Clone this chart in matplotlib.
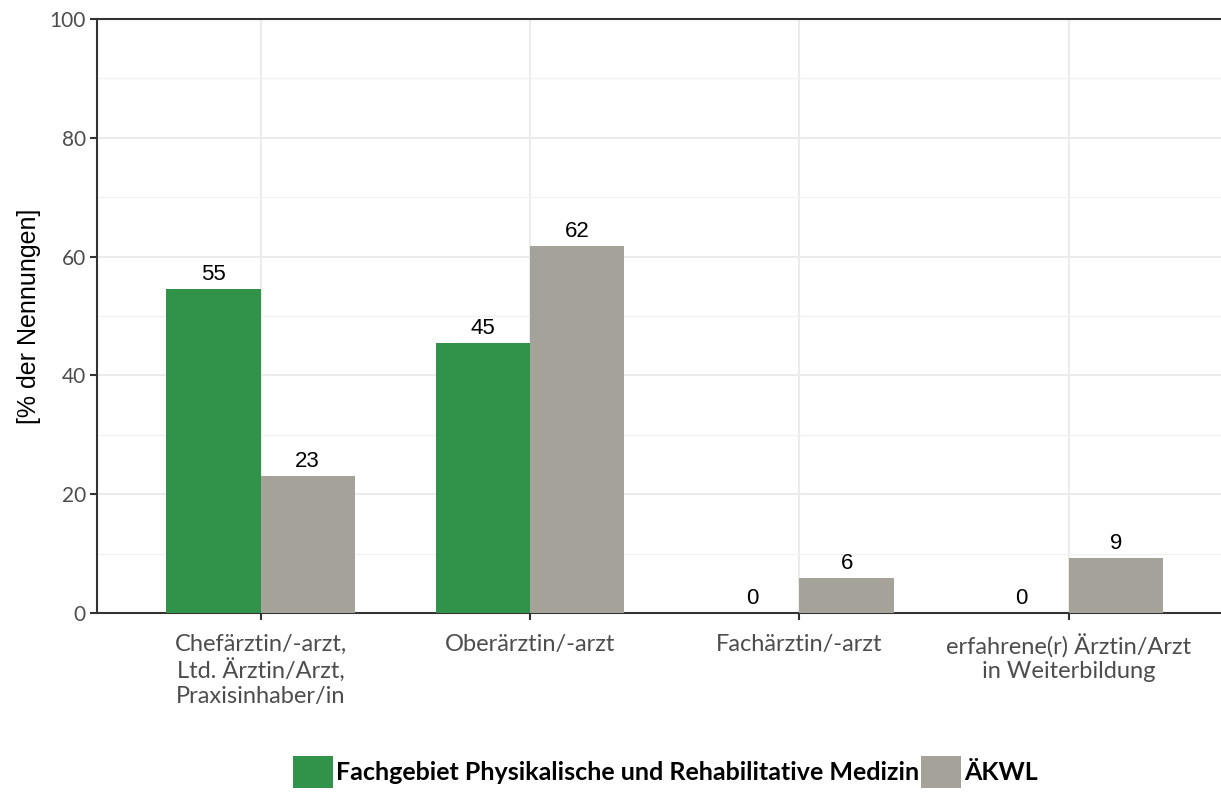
import numpy as np
import matplotlib.pyplot as plt

# data
categories = ['Chefärztin/-arzt,\nLtd. Ärztin/Arzt,\nPraxisinhaber/in',
              'Oberärztin/-arzt',
              'Fachärztin/-arzt',
              'erfahrene(r) Ärztin/Arzt\nin Weiterbildung']
prm = [54.6, 45.4, 0, 0]
aekwl = [23.0, 61.8, 5.9, 9.3]
series_names = ['Fachgebiet Physikalische und Rehabilitative Medizin', 'ÄKWL']
colors = ['#31934a', '#a5a29a']

fig = plt.figure(figsize=(12.21, 7.93), dpi=100)
ax = fig.add_axes([97/1221, 1 - 613/793, 1 - 97/1221 + 0.01, (613 - 19)/793])

x = np.arange(len(categories))
w = 0.35
b1 = ax.bar(x - w/2, prm, w, color=colors[0], label=series_names[0], zorder=3)
b2 = ax.bar(x + w/2, aekwl, w, color=colors[1], label=series_names[1], zorder=3)

for bars, vals in [(b1, prm), (b2, aekwl)]:
    for r, v in zip(bars, vals):
        ax.annotate(f'{v:.0f}', (r.get_x() + r.get_width()/2, v),
                    xytext=(0, 3), textcoords='offset points',
                    ha='center', va='bottom', fontsize=16,
                    family='Liberation Sans', color='black')

ax.set_xlim(-0.607, 3.61)
ax.set_ylim(0, 100)
ax.set_yticks(np.arange(0, 101, 20))
ax.set_yticks(np.arange(10, 100, 20), minor=True)
ax.set_xticks(x)
ax.set_xticklabels(categories, family='Lato', fontsize=17, color='#4d4d4d',
                   linespacing=1.2, va='top')
ax.tick_params(axis='y', which='major', labelsize=15, labelcolor='#4d4d4d',
               length=5, width=1.5, color='#333333', pad=3)
ax.tick_params(axis='y', which='minor', length=0)
ax.tick_params(axis='x', length=5, width=1.5, color='#333333', pad=10)
for lab in ax.get_yticklabels():
    lab.set_family('Lato')

ax.grid(True, which='major', color='#ebebeb', lw=1.5, zorder=0)
ax.grid(True, which='minor', axis='y', color='#f2f2f2', lw=1, zorder=0)
ax.set_axisbelow(True)

ax.spines['right'].set_visible(False)
for s in ['left', 'bottom', 'top']:
    ax.spines[s].set_color('#333333')
    ax.spines[s].set_linewidth(1.5)

ax.set_ylabel('[% der Nennungen]', fontsize=18, family='Liberation Sans',
              labelpad=6)

fig.legend(handles=[b1, b2], labels=series_names, loc='lower center',
           bbox_to_anchor=(0.545, -0.016), ncol=2, frameon=False,
           prop={'family': 'Lato', 'weight': 'bold', 'size': 18},
           handlelength=1.6, handleheight=1.6, handletextpad=0.1,
           columnspacing=0.1, borderpad=0.2)

fig.savefig('out.png', dpi=100)
